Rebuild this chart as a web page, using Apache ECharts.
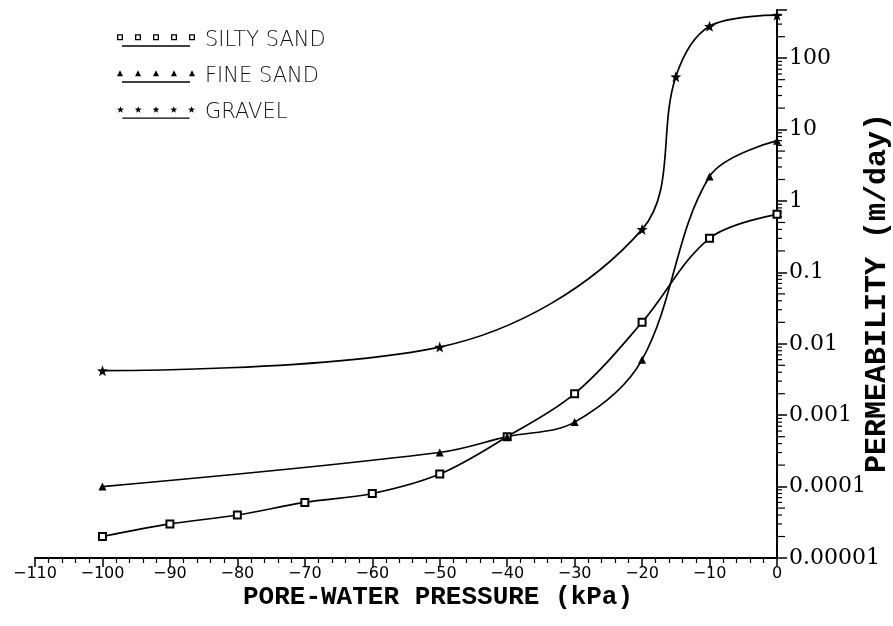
<!DOCTYPE html>
<html><head><meta charset="utf-8">
<script src="https://cdn.jsdelivr.net/npm/echarts@6/dist/echarts.min.js"></script>
<style>html,body{margin:0;padding:0;background:#fff}#c{width:893px;height:626px}</style>
</head><body><div id="c"></div>
<script>
// ---- data ----
const siltyX = [-100, -90, -80, -70, -60, -50, -40, -30, -20, -10, 0];
const siltySand = [0.00002, 0.00003, 0.00004, 0.00006, 0.00008, 0.00015, 0.0005, 0.002, 0.02, 0.3, 0.65];
const fineX = [-100, -50, -40, -30, -20, -10, 0];
const fineSand = [0.0001, 0.0003, 0.0005, 0.0008, 0.006, 2.2, 7];
const gravelX = [-100, -50, -20, -15, -10, 0];
const gravel = [0.0042, 0.009, 0.4, 55, 280, 400];
const seriesNames = ['SILTY SAND', 'FINE SAND', 'GRAVEL'];
const xMin = -110, xMax = 0, xInterval = 10;
const yMin = 0.00001, yMax = 473;
const xTitle = 'PORE-WATER PRESSURE (kPa)';
const yTitle = 'PERMEABILITY (m/day)';

// minor log ticks (2..9 in each decade)
const minorTicks = [];
for (let e = -5; e <= 2; e++) {
  for (let m = 2; m <= 9; m++) {
    const v = m * Math.pow(10, e);
    if (v < yMax) minorTicks.push([0, v, m]);
  }
}

const zip = (xs, ys) => xs.map((x, i) => [x, ys[i]]);
const star = 'path://M0,-10 L2.35,-3.24 L9.51,-3.09 L3.8,1.24 L5.88,8.09 L0,4 L-5.88,8.09 L-3.8,1.24 L-9.51,-3.09 L-2.35,-3.24 Z';

function legendIcon(kind) {
  let p = '';
  const xs = [0, 18, 36, 54, 72];
  xs.forEach(x => {
    if (kind === 'sq') p += `M${x},0 L${x + 6},0 L${x + 6},6 L${x},6 Z M${x + 1.3},1.3 L${x + 1.3},4.7 L${x + 4.7},4.7 L${x + 4.7},1.3 Z `;
    else if (kind === 'tri') p += `M${x + 3},0 L${x + 6},6 L${x},6 Z `;
    else p += `M${x + 3},-0.5 L${x + 3.9},2 L${x + 6.5},2.1 L${x + 4.4},3.7 L${x + 5.2},6.3 L${x + 3},4.8 L${x + 0.8},6.3 L${x + 1.6},3.7 L${x - 0.5},2.1 L${x + 2.1},2 Z `;
  });
  p += 'M5,11 L73,11 L73,12.4 L5,12.4 Z';
  return 'path://' + p;
}

const chart = echarts.init(document.getElementById('c'), null, {renderer: 'canvas'});
const black = '#000';
chart.setOption({
  backgroundColor: '#fff',
  animation: false,
  grid: {left: 35, right: 116, top: 10, bottom: 68},
  legend: {
    orient: 'vertical', left: 112, top: 25, itemWidth: 78, itemHeight: 13, itemGap: 15,
    icon: 'rect',
    data: [
      {name: seriesNames[0], icon: legendIcon('sq')},
      {name: seriesNames[1], icon: legendIcon('tri')},
      {name: seriesNames[2], icon: legendIcon('star')}
    ],
    textStyle: {fontFamily: 'DejaVu Sans', fontSize: 21, fontWeight: 200, color: '#111', padding: [0, 0, 10, 5]},
    itemStyle: {color: '#000', borderWidth: 0}
  },
  xAxis: {
    type: 'value', min: xMin, max: xMax, interval: xInterval,
    axisLine: {show: true, lineStyle: {color: black, width: 2}},
    axisTick: {show: true, length: 9, lineStyle: {color: black, width: 1.5}},
    minorTick: {show: true, splitNumber: 5, length: 5, lineStyle: {color: black, width: 1.2}},
    splitLine: {show: false},
    axisLabel: {
      color: black, fontFamily: 'DejaVu Sans', fontSize: 16, margin: 8,
      formatter: v => (v < 0 ? '\u2212' + Math.abs(v) : String(v))
    }
  },
  yAxis: {
    type: 'log', position: 'right', min: yMin, max: yMax, logBase: 10,
    axisLine: {show: true, onZero: false, lineStyle: {color: black, width: 2}},
    axisTick: {show: true, inside: false, length: 10, lineStyle: {color: black, width: 1.5}},
    splitLine: {show: false},
    axisLabel: {
      color: black, fontFamily: 'DejaVu Serif', fontSize: 22, margin: 12,
      formatter: v => {
        const e = Math.round(Math.log10(v));
        if (Math.abs(Math.log10(v) - e) > 0.01) return '';
        return e < 0 ? Math.pow(10, e).toFixed(-e) : String(Math.pow(10, e));
      }
    }
  },
  graphic: [
    {type: 'text', left: 243, top: 584, style: {text: xTitle, font: 'bold 26px "Liberation Mono"', fill: black}},
    {type: 'text', x: 877, y: 293, rotation: Math.PI / 2,
     style: {text: yTitle, font: 'bold 30px "Liberation Mono"', fill: black, align: 'center', verticalAlign: 'middle'}}
  ],
  series: [
    {
      name: seriesNames[0], type: 'line', smooth: 0.35, data: zip(siltyX, siltySand),
      symbol: 'emptyRect', symbolSize: 7, showAllSymbol: true,
      lineStyle: {color: black, width: 1.7}, itemStyle: {color: black, borderColor: black, borderWidth: 1.5}
    },
    {
      name: seriesNames[1], type: 'line', smooth: 0.35, data: zip(fineX, fineSand),
      symbol: 'triangle', symbolSize: 8, showAllSymbol: true,
      lineStyle: {color: black, width: 1.7}, itemStyle: {color: black}
    },
    {
      name: seriesNames[2], type: 'line', smooth: 0.35, data: zip(gravelX, gravel),
      symbol: star, symbolSize: 11, showAllSymbol: true,
      lineStyle: {color: black, width: 1.7}, itemStyle: {color: black}
    },
    {
      type: 'custom', silent: true, clip: false, data: minorTicks,
      renderItem: (params, api) => {
        const p = api.coord([api.value(0), api.value(1)]);
        const m = api.value(2);
        const len = (m === 2 || m === 5) ? 8 : 5;
        return {type: 'line', shape: {x1: p[0], y1: p[1], x2: p[0] + len, y2: p[1]},
                style: {stroke: black, lineWidth: 1.2}};
      }
    }
  ]
});
</script></body></html>
